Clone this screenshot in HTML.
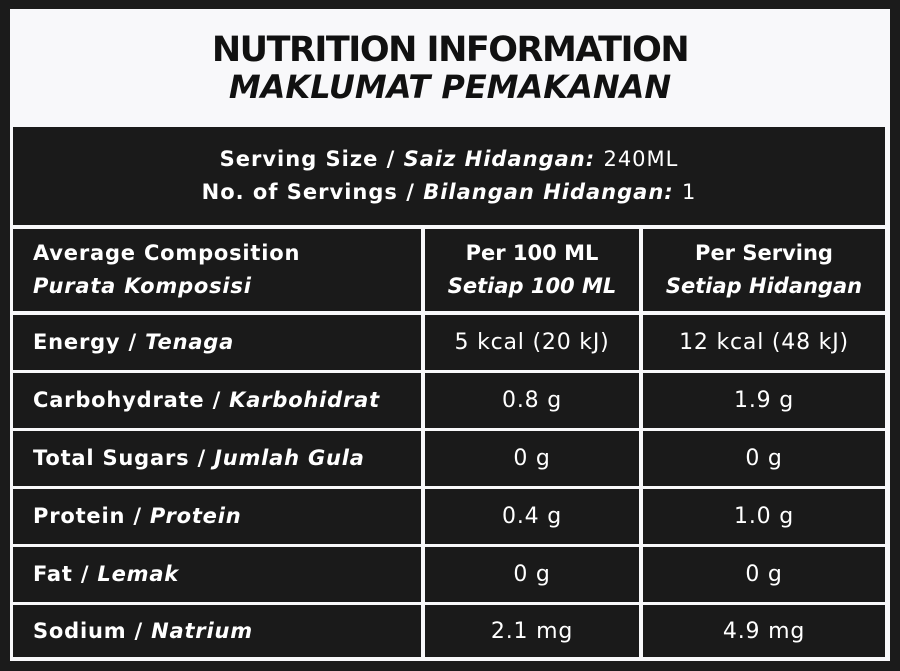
<!DOCTYPE html>
<html><head><meta charset="utf-8"><style>
*{margin:0;padding:0;box-sizing:border-box}
body{width:900px;height:671px;background:#1b1b1b;position:relative;overflow:hidden;font-family:"DejaVu Sans",sans-serif;color:#fff}
.box{position:absolute;left:10px;top:9px;width:880px;height:652px;background:#f8f8fa}
.c{position:absolute;background:#1a1a1a;display:flex;flex-direction:column;justify-content:center;font-weight:bold;font-size:21px;line-height:33px;letter-spacing:0.8px;white-space:nowrap}
.ctr{align-items:center;text-align:center}
.v{font-weight:normal;font-size:22px;letter-spacing:0.8px}
.l{padding-left:20px}
i{font-style:italic}
.t{position:absolute;left:10px;width:880px;text-align:center;color:#111;font-weight:bold;white-space:nowrap}
</style></head><body>
<div class="box"></div>
<div class="t" style="top:30px;font-size:35px;letter-spacing:-1.5px">NUTRITION INFORMATION</div>
<div class="t" style="top:68px;font-size:32px;font-style:italic;letter-spacing:0px">MAKLUMAT PEMAKANAN</div>

<div class="c ctr" style="left:13px;top:127px;width:872px;height:98px;letter-spacing:1px"><div>Serving Size / <i>Saiz Hidangan:</i> <span style="font-weight:normal">240ML</span></div><div>No. of Servings / <i>Bilangan Hidangan:</i> <span style="font-weight:normal">1</span></div></div>

<div class="c l" style="left:13px;top:229px;width:408px;height:82px"><div>Average Composition</div><div><i>Purata Komposisi</i></div></div>
<div class="c ctr" style="left:425px;top:229px;width:214px;height:82px;letter-spacing:0"><div>Per 100 ML</div><div><i>Setiap 100 ML</i></div></div>
<div class="c ctr" style="left:643px;top:229px;width:242px;height:82px;letter-spacing:0"><div>Per Serving</div><div><i>Setiap Hidangan</i></div></div>

<div class="c l" style="left:13px;top:315px;width:408px;height:55px"><div>Energy / <i>Tenaga</i></div></div>
<div class="c ctr v" style="left:425px;top:315px;width:214px;height:55px">5 kcal (20 kJ)</div>
<div class="c ctr v" style="left:643px;top:315px;width:242px;height:55px">12 kcal (48 kJ)</div>

<div class="c l" style="left:13px;top:373px;width:408px;height:55px"><div>Carbohydrate / <i>Karbohidrat</i></div></div>
<div class="c ctr v" style="left:425px;top:373px;width:214px;height:55px">0.8 g</div>
<div class="c ctr v" style="left:643px;top:373px;width:242px;height:55px">1.9 g</div>

<div class="c l" style="left:13px;top:431px;width:408px;height:55px"><div>Total Sugars / <i>Jumlah Gula</i></div></div>
<div class="c ctr v" style="left:425px;top:431px;width:214px;height:55px">0 g</div>
<div class="c ctr v" style="left:643px;top:431px;width:242px;height:55px">0 g</div>

<div class="c l" style="left:13px;top:489px;width:408px;height:55px"><div>Protein / <i>Protein</i></div></div>
<div class="c ctr v" style="left:425px;top:489px;width:214px;height:55px">0.4 g</div>
<div class="c ctr v" style="left:643px;top:489px;width:242px;height:55px">1.0 g</div>

<div class="c l" style="left:13px;top:547px;width:408px;height:55px"><div>Fat / <i>Lemak</i></div></div>
<div class="c ctr v" style="left:425px;top:547px;width:214px;height:55px">0 g</div>
<div class="c ctr v" style="left:643px;top:547px;width:242px;height:55px">0 g</div>

<div class="c l" style="left:13px;top:605px;width:408px;height:52px"><div>Sodium / <i>Natrium</i></div></div>
<div class="c ctr v" style="left:425px;top:605px;width:214px;height:52px">2.1 mg</div>
<div class="c ctr v" style="left:643px;top:605px;width:242px;height:52px">4.9 mg</div>
</body></html>
